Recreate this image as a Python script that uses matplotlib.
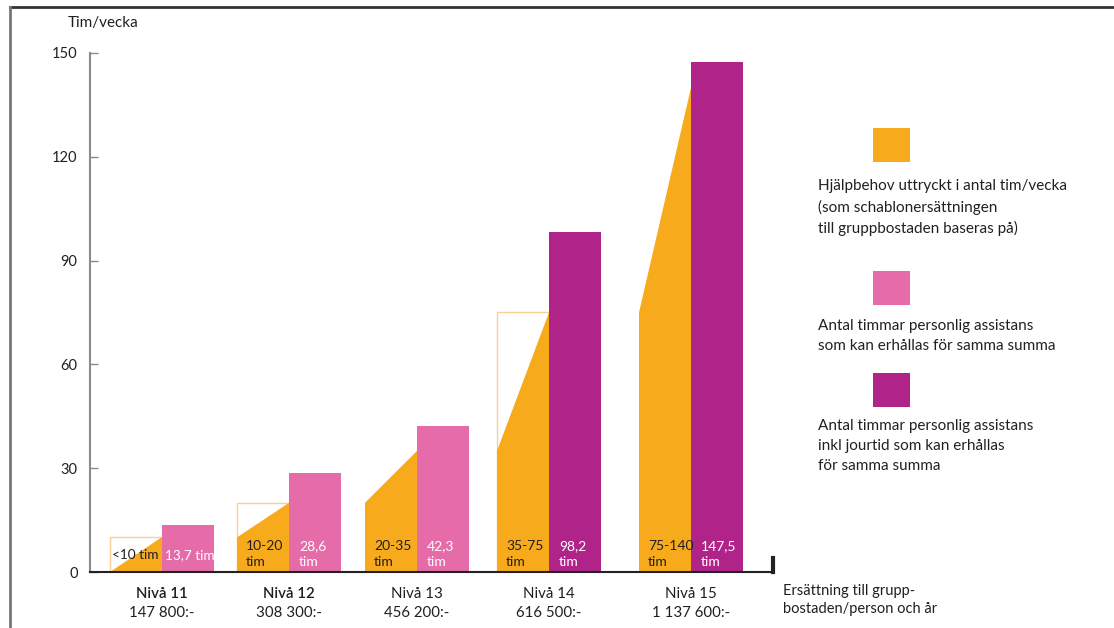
import matplotlib
matplotlib.use("Agg")
import matplotlib.pyplot as plt
from matplotlib.patches import Rectangle, Polygon
from matplotlib.lines import Line2D

plt.rcParams['font.family'] = ['Lato', 'DejaVu Sans']

# ---- data ----
levels = ["Nivå 11", "Nivå 12", "Nivå 13", "Nivå 14", "Nivå 15"]
compensation = ["147 800:-", "308 300:-", "456 200:-", "616 500:-", "1 137 600:-"]
need_low = [0, 10, 20, 35, 75]
need_high = [10, 20, 35, 75, 140]
need_labels = ["<10 tim", "10-20\ntim", "20-35\ntim", "35-75\ntim", "75-140\ntim"]
assist_hours = [13.7, 28.6, 42.3, 98.2, 147.5]
assist_labels = ["13,7 tim", "28,6\ntim", "42,3\ntim", "98,2\ntim", "147,5\ntim"]
assist_incl_jour = [False, False, False, True, True]
show_box = [True, True, False, True, False]
yticks = [0, 30, 60, 90, 120, 150]
legend_texts = [
    "Hjälpbehov uttryckt i antal tim/vecka\n(som schablonersättningen\ntill gruppbostaden baseras på)",
    "Antal timmar personlig assistans\nsom kan erhållas för samma summa",
    "Antal timmar personlig assistans\ninkl jourtid som kan erhållas\nför samma summa",
]

# ---- style / layout ----
ORANGE = "#F8AA1D"
PINK = "#E56CA8"
PURPLE = "#B0248A"
BOX = "#F8CF94"
TXT = "#231F20"
W, H = 1114, 628
group_left = [20, 147, 275, 407, 549]
bw = 52
level_weight = ["semibold", "semibold", "normal", "normal", "normal"]

fig = plt.figure(figsize=(W / 100, H / 100), dpi=100)
ax = fig.add_axes([90 / W, (H - 572) / H, (773 - 90) / W, (572 - 53) / H])
ax.set_xlim(0, 683)
ax.set_ylim(0, 150)
for s in ax.spines.values():
    s.set_visible(False)
ax.set_xticks([])
ax.set_yticks(yticks)
ax.set_yticklabels([str(t) for t in yticks], fontsize=10.5, color=TXT)
ax.tick_params(axis='y', direction='in', length=6, width=1, color="#8a8a8a", pad=9)
ax.plot([0, 0], [0, 150], color="#8a8a8a", lw=1.5, clip_on=False, zorder=5)
ax.plot([0, 683], [0, 0], color="#222222", lw=1.5, clip_on=False, zorder=5)
ax.plot([683, 683], [0, 4], color="#222222", lw=3, clip_on=False, zorder=5)

for i in range(len(levels)):
    x0 = group_left[i]
    lo, hi = need_low[i], need_high[i]
    if show_box[i]:
        ax.add_patch(Rectangle((x0, 0), bw, hi, facecolor="white", edgecolor=BOX, lw=1, zorder=1))
    ax.add_patch(Polygon([(x0, 0), (x0 + bw, 0), (x0 + bw, hi), (x0, lo)], closed=True,
                         facecolor=ORANGE, edgecolor="none", zorder=2))
    col = PURPLE if assist_incl_jour[i] else PINK
    ax.bar(x0 + bw, assist_hours[i], width=bw, align='edge', color=col, zorder=3)
    if "\n" in need_labels[i]:
        ax.text(x0 + 9, 1.3, need_labels[i], ha='left', va='bottom', fontsize=10,
                color=TXT, linespacing=1.35, zorder=4)
        ax.text(x0 + bw + 10, 1.3, assist_labels[i], ha='left', va='bottom', fontsize=10,
                color="white", linespacing=1.35, zorder=4)
    else:
        ax.text(x0 + 2, 5, need_labels[i], ha='left', va='center', fontsize=9.8,
                color=TXT, zorder=4)
        ax.text(x0 + bw + 3, 5, assist_labels[i], ha='left', va='center', fontsize=9.8,
                color="white", zorder=4)
    ax.text(x0 + bw, -4.2, levels[i], ha='center', va='top', fontsize=10.8, color=TXT,
            fontweight=level_weight[i])
    ax.text(x0 + bw, -9.7, compensation[i], ha='center', va='top', fontsize=10.8, color=TXT)

# axis titles
fig.text(68 / W, 1 - 23 / H, "Tim/vecka", ha='left', va='center', fontsize=11, color=TXT)
fig.text(783 / W, 1 - 600 / H, "Ersättning till grupp-\nbostaden/person och år",
         ha='left', va='center', fontsize=10.5, color=TXT, linespacing=1.35)

# legend
leg_cols = [ORANGE, PINK, PURPLE]
sq_top = [128, 271, 373]
txt_top = [179, 319, 419]
for c, st, tt, t in zip(leg_cols, sq_top, txt_top, legend_texts):
    fig.patches.append(Rectangle((873 / W, 1 - (st + 34) / H), 37 / W, 34 / H,
                                 transform=fig.transFigure, facecolor=c, edgecolor="none"))
    fig.text(818 / W, 1 - tt / H, t, ha='left', va='top', fontsize=11, color=TXT,
             linespacing=1.55)

# frame lines
fig.add_artist(Line2D([10 / W, 1], [1 - 7 / H, 1 - 7 / H], color="#333333", lw=2))
fig.add_artist(Line2D([10 / W, 10 / W], [0, 1 - 7 / H], color="#777777", lw=2))

fig.savefig("out.png", dpi=100)
